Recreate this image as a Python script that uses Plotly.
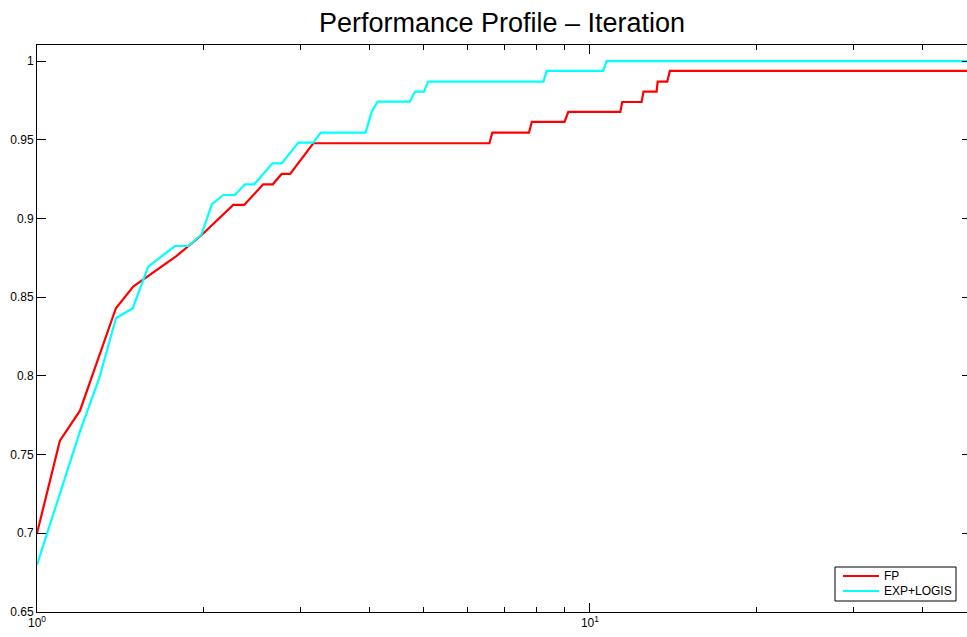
import plotly.graph_objects as go

# Performance profile data: tau (log scale) vs fraction of problems solved
fp_tau = [1.0, 1.1, 1.196, 1.389, 1.493, 1.789, 1.985, 2.264, 2.37, 2.565, 2.67,
          2.77, 2.87, 3.16, 6.58, 6.66, 7.76, 7.85, 9.0, 9.14, 11.35, 11.44,
          12.4, 12.5, 13.2, 13.26, 13.8, 13.95, 48.1]
fp_rho = [0.700, 0.7588, 0.7779, 0.843, 0.8567, 0.8762, 0.8895, 0.9086, 0.9086,
          0.9217, 0.9217, 0.9283, 0.9283, 0.9478, 0.9478, 0.9545, 0.9545, 0.9613,
          0.9613, 0.9677, 0.9677, 0.974, 0.974, 0.9806, 0.9806, 0.9869, 0.9869,
          0.9937, 0.9937]

exp_tau = [1.0, 1.1, 1.196, 1.296, 1.389, 1.49, 1.589, 1.776, 1.878, 1.985, 2.071,
           2.172, 2.28, 2.378, 2.47, 2.667, 2.77, 2.97, 3.16, 3.26, 3.93, 4.03,
           4.13, 4.72, 4.83, 5.01, 5.10, 8.24, 8.35, 10.57, 10.72, 48.1]
exp_rho = [0.680, 0.7254, 0.7647, 0.7985, 0.8366, 0.843, 0.8694, 0.8825, 0.8825,
           0.890, 0.909, 0.9149, 0.9149, 0.9217, 0.9217, 0.935, 0.935, 0.9482,
           0.9482, 0.9545, 0.9545, 0.9679, 0.9742, 0.9742, 0.9806, 0.9806, 0.9869,
           0.9869, 0.9937, 0.9937, 1.0, 1.0]

series_names = ["FP", "EXP+LOGIS"]
series_colors = ["#ff0000", "#00ffff"]

y_ticks = [0.65, 0.7, 0.75, 0.8, 0.85, 0.9, 0.95, 1.0]
y_labels = ["0.65", "0.7", "0.75", "0.8", "0.85", "0.9", "0.95", "1"]
x_major = [1, 10]
x_major_labels = ["10<sup>0</sup>", "10<sup>1</sup>"]
x_minor = [2, 3, 4, 5, 6, 7, 8, 9, 20, 30, 40]

FONT = "Liberation Sans, Arial, Helvetica, sans-serif"

# plot-area geometry in pixels
W, H = 967, 637
L, R, T, B = 37, 0, 45, 25
PW, PH = W - L - R, H - T - B


def px_x(p):
    return (p - L) / PW


def px_y(p):
    return (H - B - p) / PH


fig = go.Figure()
for name, color, xs, ys in zip(series_names, series_colors,
                               [fp_tau, exp_tau], [fp_rho, exp_rho]):
    fig.add_trace(go.Scatter(x=xs, y=ys, mode="lines", name=name,
                             line=dict(color=color, width=2.2),
                             showlegend=False))

# invisible carrier so the right-hand tick axis is rendered
fig.add_trace(go.Scatter(x=[1], y=[0.65], yaxis="y2", mode="lines",
                         showlegend=False, hoverinfo="skip",
                         line=dict(width=0)))

# compact boxed legend in the lower-right corner
shapes = [dict(type="rect", xref="paper", yref="paper",
               x0=px_x(835), x1=px_x(956), y0=px_y(601), y1=px_y(567),
               line=dict(color="black", width=1), fillcolor="white", layer="above")]
annotations = []
for i, (name, color) in enumerate(zip(series_names, series_colors)):
    yy = px_y(576 + 15 * i)
    shapes.append(dict(type="line", xref="paper", yref="paper",
                       x0=px_x(843), x1=px_x(879), y0=yy, y1=yy,
                       line=dict(color=color, width=2.2), layer="above"))
    annotations.append(dict(text=name, xref="paper", yref="paper",
                            x=px_x(882), y=yy, xanchor="left", yanchor="middle",
                            showarrow=False,
                            font=dict(family=FONT, size=12, color="black")))

fig.update_layout(
    width=W, height=H,
    margin=dict(l=L, r=R, t=T, b=B),
    paper_bgcolor="white", plot_bgcolor="white",
    font=dict(family=FONT, color="black", size=12),
    title=dict(text="Performance Profile \u2013 Iteration",
               font=dict(family=FONT, size=27, color="black"),
               x=0.5, xref="paper", xanchor="center",
               y=0.965, yref="container", yanchor="middle"),
    showlegend=False,
    shapes=shapes,
    annotations=annotations,
    xaxis=dict(type="log", range=[0, 1.682],
               tickvals=x_major, ticktext=x_major_labels,
               ticks="inside", ticklen=9, tickcolor="black",
               showline=True, linecolor="black", linewidth=1, mirror="ticks",
               showgrid=False, zeroline=False,
               tickfont=dict(size=12),
               minor=dict(tickvals=x_minor, ticks="inside", ticklen=5,
                          tickcolor="black", showgrid=False)),
    yaxis=dict(range=[0.65, 1.0102],
               tickvals=y_ticks, ticktext=y_labels,
               ticks="inside", ticklen=9, tickcolor="black",
               showline=True, linecolor="black", linewidth=1, mirror=False,
               showgrid=False, zeroline=False,
               tickfont=dict(size=12)),
    yaxis2=dict(range=[0.65, 1.0102], overlaying="y", side="right",
                tickvals=y_ticks, showticklabels=False,
                ticks="inside", ticklen=5, tickcolor="black",
                showline=False, showgrid=False, zeroline=False),
)

fig.write_html("out.html")
